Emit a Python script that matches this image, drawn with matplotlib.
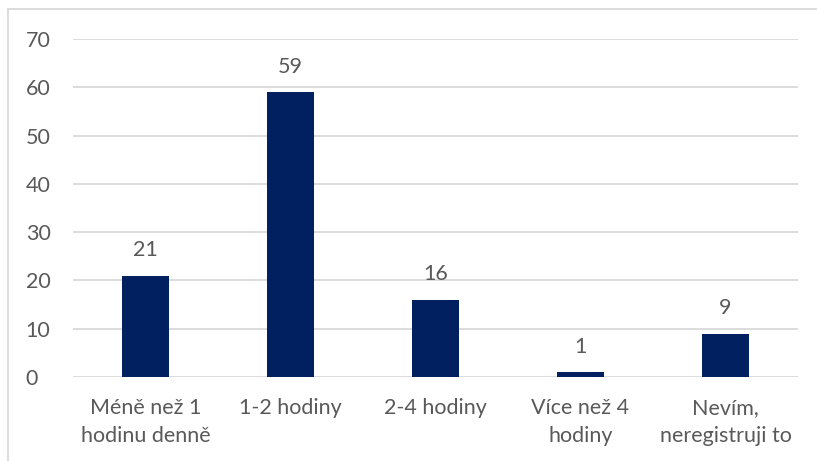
import matplotlib.pyplot as plt
from matplotlib.lines import Line2D

categories = ["Méně než 1\nhodinu denně", "1-2 hodiny", "2-4 hodiny",
              "Více než 4\nhodiny", "Nevím,\nneregistruji to"]
values = [21, 59, 16, 1, 9]
yticks = [0, 10, 20, 30, 40, 50, 60, 70]

BAR = "#002060"
TEXT = "#595959"
GRID = "#d9d9d9"

plt.rcParams["font.family"] = ["Lato", "DejaVu Sans"]

W, H = 817, 461
fig = plt.figure(figsize=(W / 100, H / 100), dpi=100)
ax = fig.add_axes([73 / W, 1 - 377 / H, (798 - 73) / W, (377 - 39) / H])

x = range(len(categories))
bars = ax.bar(x, values, width=0.32, color=BAR, zorder=3)
for b, v in zip(bars, values):
    ax.annotate(str(v), (b.get_x() + b.get_width() / 2, v),
                xytext=(0, 11), textcoords="offset points",
                ha="center", va="bottom", fontsize=15.5, color=TEXT)

ax.set_xlim(-0.5, len(categories) - 0.5)
ax.set_ylim(0, 70)
ax.set_yticks(yticks)
ax.set_xticks(list(x))
ax.set_xticklabels(categories, linespacing=1.5)
ax.tick_params(axis="both", length=0, labelsize=15.5, colors=TEXT)
ax.tick_params(axis="x", pad=15)
ax.tick_params(axis="y", pad=34)
for lbl in ax.get_yticklabels():
    lbl.set_horizontalalignment("left")
ax.grid(axis="y", color=GRID, linewidth=1.3, zorder=0)
for s in ax.spines.values():
    s.set_visible(False)

# chart frame
fig.add_artist(Line2D([8 / W, 8 / W], [0, 1 - 9 / H], color=GRID, lw=1.3))
fig.add_artist(Line2D([8 / W, 1], [1 - 9 / H, 1 - 9 / H], color=GRID, lw=1.3))

fig.savefig("out.png", dpi=100)
